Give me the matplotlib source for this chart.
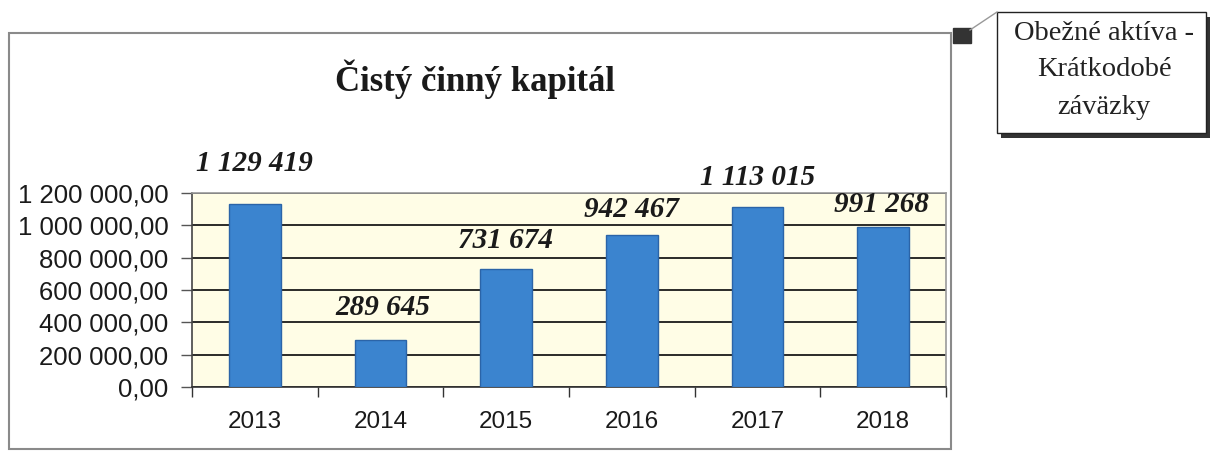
import matplotlib.pyplot as plt
from matplotlib.patches import Rectangle
from matplotlib.lines import Line2D
from matplotlib.ticker import FixedLocator, FuncFormatter

years = ['2013', '2014', '2015', '2016', '2017', '2018']
values = [1129419, 289645, 731674, 942467, 1113015, 991268]
value_labels = ['1 129 419', '289 645', '731 674', '942 467', '1 113 015', '991 268']
y_ticks = [0, 200000, 400000, 600000, 800000, 1000000, 1200000]
title = 'Čistý činný kapitál'
legend_lines = ['Obežné aktíva -', 'Krátkodobé', 'záväzky']

# label offsets from the bar top, in pixels (as placed in the original)
label_offsets = [(0, 41), (2, 33), (-1, 28), (0, 25), (0, 30), (-2, 22)]

W, H = 1213, 451
BAR_COLOR = '#3b84cf'
BAR_EDGE = '#2b64a8'
PLOT_BG = '#fffde6'


def fx(px):
    return px / W


def fy(py):
    return 1 - py / H


def fmt_tick(v, pos):
    s = f'{v:,.2f}'
    return s.replace(',', ' ').replace('.', ',')


def draw_frame(fig):
    # outer chart border
    fig.add_artist(Rectangle((fx(9), fy(449)), fx(951) - fx(9), fy(33) - fy(449),
                             transform=fig.transFigure, fill=False,
                             edgecolor='#8a8a8a', linewidth=1.5))
    # legend key and leader line
    fig.add_artist(Rectangle((fx(953), fy(43)), fx(18), fy(28) - fy(43),
                             transform=fig.transFigure, facecolor='#333333',
                             edgecolor='#333333'))
    fig.add_artist(Line2D([fx(970), fx(997)], [fy(30), fy(12)],
                          transform=fig.transFigure, color='#999999', linewidth=1))
    # legend box with shadow
    fig.add_artist(Rectangle((fx(1001), fy(138)), fx(209), fy(16) - fy(137),
                             transform=fig.transFigure, facecolor='#333333',
                             edgecolor='none'))
    fig.add_artist(Rectangle((fx(997), fy(133)), fx(209), fy(12) - fy(133),
                             transform=fig.transFigure, facecolor='white',
                             edgecolor='#222222', linewidth=1))
    for i, line in enumerate(legend_lines):
        fig.text(fx(1104), fy(33 + 37 * i), line, ha='center', va='center',
                 fontsize=20.5, family='Liberation Serif', color='#222222')


def plot_data(ax):
    x = range(len(years))
    ax.bar(x, values, width=0.41, color=BAR_COLOR, edgecolor=BAR_EDGE,
           linewidth=1, zorder=3)
    for i, (v, lab) in enumerate(zip(values, value_labels)):
        dx, dy = label_offsets[i]
        ax.annotate(lab, xy=(i, v), xytext=(dx, dy), textcoords='offset pixels',
                    ha='center', va='center', fontsize=21, fontweight='bold',
                    fontstyle='italic', family='Liberation Serif',
                    color='#1a1a1a', annotation_clip=False, zorder=4)


def set_axes(ax):
    ax.set_facecolor(PLOT_BG)
    ax.set_xlim(-0.5, len(years) - 0.5)
    ax.set_ylim(y_ticks[0], y_ticks[-1])
    ax.yaxis.set_major_locator(FixedLocator(y_ticks))
    ax.yaxis.set_major_formatter(FuncFormatter(fmt_tick))
    ax.xaxis.set_minor_locator(FixedLocator([i - 0.5 for i in range(len(years) + 1)]))
    ax.tick_params(axis='x', which='major', length=0, pad=17)
    ax.tick_params(axis='x', which='minor', length=7, width=1, color='#333333')
    ax.tick_params(axis='y', which='major', length=8, width=1, color='#555555',
                   pad=9)
    ax.set_xticks(range(len(years)))
    ax.set_xticklabels(years, fontsize=17.5, family='Liberation Sans', color='#1a1a1a')
    for lab in ax.get_yticklabels():
        lab.set_family('Liberation Sans')
        lab.set_fontsize(18.5)
        lab.set_color('#1a1a1a')
    ax.grid(axis='y', color='#1a1a1a', linewidth=1.3, zorder=1)
    ax.set_axisbelow(True)
    ax.spines['left'].set_color('#444444')
    ax.spines['bottom'].set_color('#333333')
    ax.spines['top'].set_color('#9a9a9a')
    ax.spines['right'].set_color('#9a9a9a')
    for sp in ax.spines.values():
        sp.set_linewidth(1.2)


def main():
    fig = plt.figure(figsize=(W / 100, H / 100), dpi=100)
    ax = fig.add_axes([fx(192), fy(387), fx(946) - fx(192), fy(193) - fy(387)])
    plot_data(ax)
    set_axes(ax)
    fig.text(fx(475), fy(79), title, ha='center', va='center', fontsize=25,
             fontweight='bold', family='Liberation Serif', color='#1a1a1a')
    draw_frame(fig)
    fig.savefig('out.png', dpi=100, facecolor='white')


if __name__ == '__main__':
    main()
